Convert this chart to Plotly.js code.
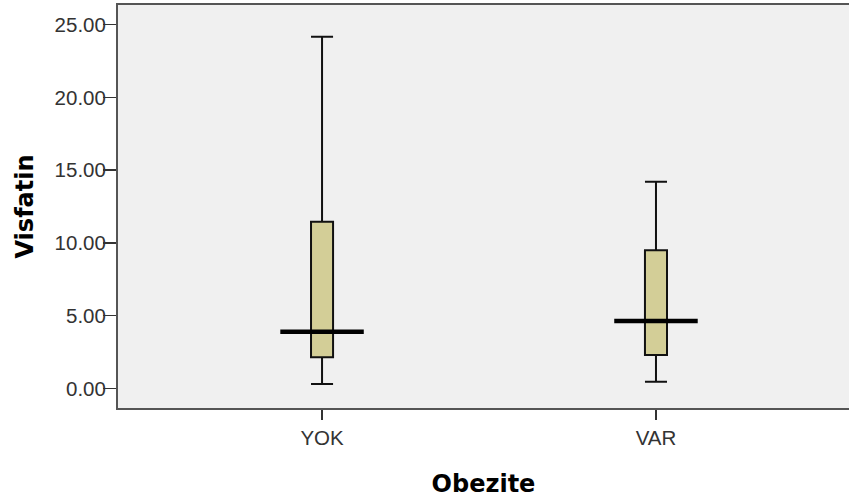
<!DOCTYPE html>
<html>
<head>
<meta charset="utf-8">
<script src="https://cdn.plot.ly/plotly-3.0.1.min.js"></script>
<style>
  html, body { margin: 0; padding: 0; background: #ffffff; }
  #chart { width: 849px; height: 502px; }
</style>
</head>
<body>
<div id="chart"></div>
<script>
// Visfatin by obesity group: five-number summaries per group
const groups = ['YOK', 'VAR'];
const lowerWhisker = [0.30, 0.46];
const q1 = [2.13, 2.29];
const median = [3.89, 4.63];
const q3 = [11.45, 9.50];
const upperWhisker = [24.17, 14.20];
const yTicks = [0, 5, 10, 15, 20, 25];

const pos = groups.map((g, i) => i);

const boxTrace = {
  type: 'box',
  x: pos,
  q1: q1,
  median: median,
  q3: q3,
  lowerfence: lowerWhisker,
  upperfence: upperWhisker,
  width: 0.066,
  whiskerwidth: 1,
  fillcolor: '#d3ce97',
  line: { color: '#111111', width: 2 },
  hoverinfo: 'skip',
  showlegend: false
};

// Wide median bars extending beyond the box
const medX = [], medY = [];
pos.forEach((p, i) => {
  medX.push(p - 0.125, p + 0.125, null);
  medY.push(median[i], median[i], null);
});
const medianTrace = {
  type: 'scatter',
  mode: 'lines',
  x: medX,
  y: medY,
  line: { color: '#000000', width: 4.5 },
  hoverinfo: 'skip',
  showlegend: false
};

const tickFont = { family: 'Liberation Sans, Arial, sans-serif', size: 20.5, color: '#333333' };
const titleFont = { family: 'DejaVu Sans, sans-serif', size: 24, color: '#000000', weight: 'bold' };

const layout = {
  width: 849,
  height: 502,
  margin: { l: 118, r: 0, t: 5, b: 94 },
  paper_bgcolor: '#ffffff',
  plot_bgcolor: '#f0f0f0',
  showlegend: false,
  xaxis: {
    range: [-0.611, 1.578],
    tickvals: pos,
    ticktext: groups,
    ticks: 'outside',
    ticklen: 10,
    tickwidth: 1.5,
    tickcolor: '#333333',
    showgrid: false,
    zeroline: false,
    showline: true,
    mirror: true,
    linecolor: '#555555',
    linewidth: 2,
    tickfont: tickFont,
    title: { text: 'Obezite', font: titleFont, standoff: 28 }
  },
  yaxis: {
    range: [-1.35, 26.35],
    tickvals: yTicks,
    tickformat: '.2f',
    ticks: 'outside',
    ticklen: 13,
    ticklabelstandoff: -7,
    tickwidth: 1.5,
    tickcolor: '#333333',
    showgrid: false,
    zeroline: false,
    showline: true,
    linecolor: '#555555',
    linewidth: 2,
    tickfont: tickFont,
    title: { text: 'Visfatin', font: titleFont, standoff: 14 }
  }
};

Plotly.newPlot('chart', [boxTrace, medianTrace], layout, { staticPlot: true, displayModeBar: false });
</script>
</body>
</html>
